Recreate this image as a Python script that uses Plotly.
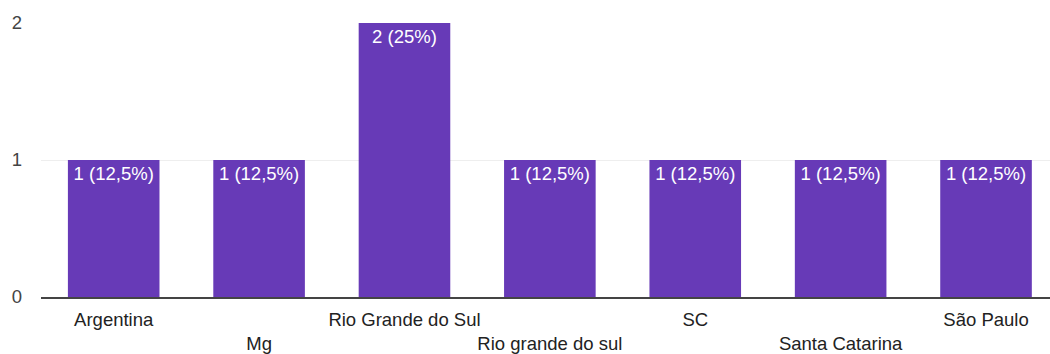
import plotly.graph_objects as go

categories = ["Argentina", "Mg", "Rio Grande do Sul", "Rio grande do sul", "SC", "Santa Catarina", "São Paulo"]
values = [1, 1, 2, 1, 1, 1, 1]
labels = ["1 (12,5%)", "1 (12,5%)", "2 (25%)", "1 (12,5%)", "1 (12,5%)", "1 (12,5%)", "1 (12,5%)"]
y_ticks = [0, 1, 2]

ticktext = [c if i % 2 == 0 else "<br>" + c for i, c in enumerate(categories)]

FONT = "Liberation Sans, Arial, sans-serif"
FS = 18.5

fig = go.Figure(go.Bar(
    x=list(range(len(categories))),
    y=values,
    text=labels,
    textposition="inside",
    insidetextanchor="end",
    textangle=0,
    textfont=dict(color="white", size=FS, family=FONT),
    marker=dict(color="#673ab7", line=dict(width=0)),
    width=0.63,
    hoverinfo="skip",
))

fig.update_layout(
    width=1050, height=354,
    margin=dict(l=41, r=0, t=23, b=57),
    paper_bgcolor="white", plot_bgcolor="white",
    font=dict(family=FONT, size=FS, color="#222222"),
    showlegend=False,
)
fig.update_xaxes(
    range=[-0.5, 6.44],
    tickmode="array",
    tickvals=list(range(len(categories))),
    ticktext=ticktext,
    tickangle=0,
    automargin=False,
    showgrid=False,
    showline=True, linecolor="#444444", linewidth=2,
    ticks="",
    ticklabelstandoff=5,
    tickfont=dict(size=FS, color="#222222", family=FONT),
    zeroline=False,
)
fig.update_yaxes(
    range=[0, 2],
    tickvals=y_ticks,
    automargin=False,
    showgrid=True, gridcolor="#eeeeee", gridwidth=1,
    zeroline=False,
    showline=False,
    ticks="",
    ticklabelstandoff=18,
    tickfont=dict(size=FS, color="#444444", family=FONT),
)

fig.write_html("out.html")
